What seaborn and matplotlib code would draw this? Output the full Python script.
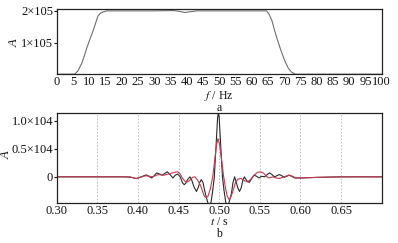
import numpy as np
import pandas as pd
import matplotlib
matplotlib.use("Agg")
import matplotlib.pyplot as plt
import seaborn as sns

# ---- data ----
freq_hz = [0, 5.5, 6.5, 7.7, 8.5, 9.3, 10.2, 11.2, 12.0, 12.7, 13.5, 14.3, 15.5, 20, 30,
           35.8, 37.5, 39.4, 41.5, 43, 50, 60, 64.6, 65.4, 66.2, 67.0, 68.0, 69.0, 70.1,
           71.2, 72.3, 73.5, 80, 100]
spec_amp = [0, 0, 0.10, 0.34, 0.58, 0.84, 1.10, 1.37, 1.62, 1.84, 1.93, 1.97, 2.0, 2.0, 2.0,
            2.01, 1.99, 1.95, 1.98, 2.0, 2.0, 2.0, 2.0, 1.88, 1.70, 1.40, 1.06, 0.75, 0.44,
            0.20, 0.06, 0, 0, 0]  # x1e5

t_black = [0.300, 0.385, 0.392, 0.398, 0.404, 0.410, 0.4135, 0.417, 0.420, 0.423, 0.4265,
           0.430, 0.433, 0.436, 0.4395, 0.443, 0.446, 0.449, 0.452, 0.455, 0.457, 0.459,
           0.461, 0.464, 0.466, 0.469, 0.472, 0.4745, 0.476, 0.478, 0.480, 0.483, 0.486,
           0.488, 0.490, 0.492, 0.494, 0.4965, 0.498, 0.499, 0.500, 0.5015, 0.504, 0.506,
           0.508, 0.510, 0.512, 0.515, 0.517, 0.519, 0.521, 0.523, 0.525, 0.527, 0.529,
           0.531, 0.534, 0.537, 0.540, 0.543, 0.546, 0.549, 0.552, 0.556, 0.559, 0.562,
           0.565, 0.568, 0.571, 0.574, 0.577, 0.580, 0.583, 0.586, 0.589, 0.593, 0.600,
           0.620, 0.650, 0.700]
a_black = [0, 0, -0.01, -0.03, 0.0, 0.035, 0.01, -0.02, 0.02, 0.07, 0.05,
           0.03, 0.06, 0.09, 0.04, -0.02, 0.03, 0.05, 0.0, -0.11, -0.14, -0.11,
           -0.05, 0.0, -0.05, -0.18, -0.26, -0.18, -0.10, -0.05, -0.10, -0.30, -0.46,
           -0.50, -0.45, -0.25, 0.0, 0.65, 1.05, 1.15, 1.05, 0.65, 0.0, -0.25,
           -0.45, -0.50, -0.46, -0.30, -0.10, 0.0, -0.10, -0.20, -0.26, -0.20, -0.07,
           0.0, -0.07, -0.10, -0.03, 0.03, 0.01, -0.02, 0.01, 0.0, 0.04, 0.07,
           0.04, 0.0, 0.02, 0.04, 0.02, -0.01, 0.01, 0.03, 0.01, -0.02, -0.02,
           -0.01, 0, 0]  # x1e4

t_red = [0.300, 0.390, 0.398, 0.405, 0.410, 0.418, 0.425, 0.432, 0.440, 0.445, 0.449,
         0.452, 0.455, 0.458, 0.461, 0.464, 0.467, 0.470, 0.473, 0.477, 0.480, 0.482,
         0.484, 0.486, 0.489, 0.492, 0.4945, 0.4965, 0.4985, 0.5005, 0.503, 0.5055, 0.508,
         0.510, 0.512, 0.514, 0.517, 0.520, 0.523, 0.527, 0.531, 0.535, 0.539, 0.543,
         0.547, 0.551, 0.555, 0.558, 0.561, 0.566, 0.570, 0.574, 0.580, 0.586, 0.590,
         0.595, 0.600, 0.620, 0.650, 0.700]
a_red = [0, 0, -0.03, 0.0, 0.02, 0.0, 0.04, 0.03, 0.06, 0.08, 0.09,
         0.05, -0.03, -0.08, -0.09, -0.06, -0.01, 0.0, -0.05, -0.15, -0.28, -0.35,
         -0.37, -0.35, -0.22, 0.0, 0.30, 0.55, 0.68, 0.57, 0.30, 0.0, -0.22,
         -0.35, -0.40, -0.37, -0.25, -0.10, -0.04, -0.03, -0.07, -0.09, -0.04, 0.03,
         0.08, 0.09, 0.06, 0.01, -0.02, 0.0, -0.02, -0.03, 0.0, 0.03, 0.01,
         -0.02, -0.02, -0.01, 0, 0]  # x1e4

x_ticks_top = list(range(0, 101, 5))
x_ticks_bot = [0.30, 0.35, 0.40, 0.45, 0.50, 0.55, 0.60, 0.65]
y_ticks_top = [1e5, 2e5]
y_labels_top = ["1×105", "2×105"]
y_ticks_bot = [0, 0.5e4, 1.0e4]
y_labels_bot = ["0", "0.5×104", "1.0×104"]

# ---- style ----
sns.set_theme(style="white")
plt.rcParams["font.family"] = ["Liberation Serif", "DejaVu Serif"]
plt.rcParams["mathtext.fontset"] = "stix"

W, H = 398, 243
fig = plt.figure(figsize=(W / 100, H / 100), dpi=100)

def ax_rect(l, t, r, b):
    return [l / W, 1 - b / H, (r - l) / W, (b - t) / H]

ax1 = fig.add_axes(ax_rect(56.7, 9.3, 381.7, 74.2))
ax2 = fig.add_axes(ax_rect(56.7, 113.3, 381.7, 202.7))

df_top = pd.DataFrame({"f": freq_hz, "A": np.array(spec_amp) * 1e5})
sns.lineplot(data=df_top, x="f", y="A", ax=ax1, color="#6e6e6e", lw=0.8,
             estimator=None, sort=False)
ax1.set_xlim(0, 100)
ax1.set_ylim(0, 2.05e5)
ax1.set_xticks(x_ticks_top)
ax1.set_xticklabels([str(v) for v in x_ticks_top])
ax1.set_yticks(y_ticks_top)
ax1.set_yticklabels(y_labels_top)
ax1.set_xlabel("")
ax1.set_ylabel("")

for x in x_ticks_bot[1:]:
    ax2.axvline(x, color="#b5b5b5", lw=0.6, ls=(0, (2, 2)), zorder=0)
df_b = pd.DataFrame({"t": t_black, "A": np.array(a_black) * 1e4})
df_r = pd.DataFrame({"t": t_red, "A": np.array(a_red) * 1e4})
sns.lineplot(data=df_b, x="t", y="A", ax=ax2, color="#2a2a2a", lw=0.8,
             estimator=None, sort=False)
sns.lineplot(data=df_r, x="t", y="A", ax=ax2, color="#c43a52", lw=0.8,
             estimator=None, sort=False)
ax2.set_xlim(0.30, 0.70)
ax2.set_ylim(-0.46e4, 1.13e4)
ax2.set_xticks(x_ticks_bot)
ax2.set_xticklabels([f"{v:.2f}" for v in x_ticks_bot])
ax2.set_yticks(y_ticks_bot)
ax2.set_yticklabels(y_labels_bot)
ax2.set_xlabel("")
ax2.set_ylabel("")

for ax in (ax1, ax2):
    for s in ax.spines.values():
        s.set_color("#222222")
        s.set_linewidth(0.9)
    ax.tick_params(axis="y", which="major", left=True, length=2, width=0.8,
                   pad=0.5, labelsize=9, colors="#111111")
    ax.tick_params(axis="x", which="major", bottom=False, length=0,
                   pad=1.5, labelsize=9, colors="#111111")
    ax.grid(False)

def ftext(x, y, s, fs=8.5, **kw):
    fig.text(x / W, 1 - y / H, s, ha="center", va="center", fontsize=fs,
             color="#111111", **kw)

ftext(15, 43, "A", fs=9, rotation=90, style="italic")
ftext(7, 155, "A", fs=9, rotation=90, style="italic")
ftext(219, 95.5, "$f$ / Hz")
ftext(219, 107.5, "a")
ftext(219, 222, "$t$ / s")
ftext(219, 234, "b")

fig.savefig("out.png", dpi=100)
